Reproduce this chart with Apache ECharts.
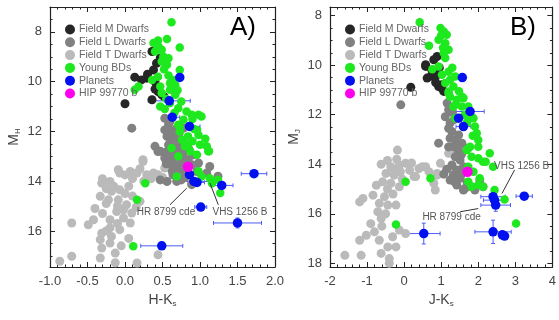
<!DOCTYPE html>
<html>
<head>
<meta charset="utf-8">
<script src="https://cdn.jsdelivr.net/npm/echarts@6/dist/echarts.min.js"></script>
<style>
html, body { margin: 0; padding: 0; background: #fff; }
#mychart { width: 559px; height: 320px; }
</style>
</head>
<body>
<div id="mychart"></div>
<script>
var names = ['Field M Dwarfs', 'Field L Dwarfs', 'Field T Dwarfs', 'Young BDs', 'Planets', 'HIP 99770 b'];

// tick labels
var xTicksA = [-1, -0.5, 0, 0.5, 1, 1.5, 2];
var yTicksA = [8, 10, 12, 14, 16];
var xTicksB = [-2, -1, 0, 1, 2, 3, 4];
var yTicksB = [8, 10, 12, 14, 16, 18];

// A) H-Ks vs M_H   [x, y]
var fieldM_A = [[0.36,8.79],[0.42,9.26],[0.38,9.53],[0.29,9.86],[0.22,9.93],[0.13,9.82],[0.40,10.0],[0.42,10.2],[0.44,10.4],[0.49,10.53],[0.36,10.73],[0.00,10.89],[0.47,9.05],[0.30,9.7],[0.52,10.6],[0.40,10.3]];
var fieldL_A = [[0.09,11.87],[0.40,12.6],[0.47,12.8],[0.53,11.47],[0.58,11.73],[0.53,11.94],[0.64,12.07],[0.56,12.2],[0.62,12.34],[0.71,12.27],[0.58,12.54],[0.69,12.6],[0.78,12.47],[0.56,12.81],[0.67,12.87],[0.78,12.87],[0.64,13.14],[0.76,13.14],[0.84,13.14],[0.67,13.41],[0.89,13.34],[0.98,13.27],[0.44,12.81],[0.53,13.07],[0.73,13.54],[0.69,14.01],[0.56,14.01],[0.47,13.95],[0.89,14.1],[0.78,11.87],[0.82,13.67],[0.96,13.61],[1.09,13.67],[0.64,13.74],[1.13,13.41],[1.24,13.8],[0.89,14.14],[0.62,12.0],[0.72,12.1],[0.60,13.3],[0.85,12.7],[0.90,12.95],[0.74,13.3],[0.80,13.85],[0.63,13.6],[0.55,13.3],[0.6,11.6],[0.68,11.9],[0.7,12.75],[0.58,13.0],[0.75,13.95]];
var fieldT_A = [[0.24,13.21],[-0.09,13.54],[-0.31,14.08],[-0.2,14.01],[-0.07,13.67],[0.07,13.61],[0.16,13.67],[0.29,13.74],[0.38,13.67],[0.44,13.74],[-0.18,14.41],[-0.07,14.35],[-0.33,14.61],[-0.22,14.75],[-0.09,14.75],[0.02,14.95],[-0.02,15.15],[0.09,15.28],[0.2,14.81],[-0.11,15.22],[-0.2,15.55],[-0.02,15.48],[0.07,15.68],[-0.42,15.55],[-0.49,15.75],[-0.71,15.68],[-0.2,15.88],[-0.07,15.95],[-0.31,16.09],[-0.18,16.22],[-0.33,16.35],[-0.2,16.49],[-0.31,16.69],[-0.13,16.89],[-0.33,17.09],[-0.71,17.02],[-0.87,17.22],[0.16,17.29],[-0.13,17.28],[0.44,16.96],[0.62,12.94],[0.24,13.14],[0.56,14.01],[0.5,13.85],[0.53,13.47],[0.1,13.9],[-0.15,14.2],[0.0,14.5],[-0.25,14.3],[0.1,14.6],[-0.1,15.0],[0.15,15.05],[-0.3,15.3],[-0.4,15.1],[0.35,13.9],[0.25,14.0],[-0.05,16.6],[0.05,16.3],[-0.3,13.9],[0.0,13.75],[0.2,13.5],[-0.25,14.9],[-0.1,15.7],[-0.25,16.0],[0.05,14.2]];
var young_A = [[0.82,6.98],[0.62,7.61],[0.38,8.45],[0.44,8.35],[0.56,8.29],[0.40,8.79],[0.49,8.72],[0.73,8.63],[0.51,8.99],[0.58,9.06],[0.49,9.19],[0.56,9.32],[0.73,9.53],[0.64,9.93],[0.60,10.06],[0.67,10.13],[0.18,10.2],[0.13,10.33],[0.36,9.93],[0.44,9.8],[0.47,10.2],[0.49,10.46],[0.60,10.33],[0.67,10.53],[0.60,10.86],[0.47,11.0],[0.53,11.1],[0.71,11.07],[0.82,11.2],[0.89,11.33],[0.98,11.33],[1.02,11.4],[0.78,11.53],[0.71,11.73],[0.73,11.8],[0.84,12.2],[0.98,12.14],[1.0,12.54],[0.84,12.54],[0.87,12.8],[1.11,12.8],[0.96,12.94],[0.62,12.67],[0.71,13.0],[0.98,13.6],[1.02,13.81],[0.69,13.81],[1.13,13.88],[1.24,13.94],[1.16,14.08],[1.27,14.48],[0.27,14.08],[0.16,14.75],[0.11,16.62],[1.07,12.3],[0.96,11.94],[1.09,12.6],[1.12,12.8],[0.76,12.34],[0.8,12.6],[0.73,12.0],[0.66,11.25],[0.9,11.5],[0.55,10.7],[0.45,8.6],[0.52,9.5],[0.58,9.75],[0.7,10.35],[0.75,10.8],[0.9,12.4],[0.92,11.9]];
// planets: [x, y, xerr, yerr]
var planets_A = [[0.73,9.83,0,0],[0.59,10.77,0.28,0.05],[0.63,11.43,0.1,0.05],[0.86,11.8,0.14,0.05],[0.86,13.74,0.25,0.05],[0.92,14.01,0.27,0.05],[0.96,14.05,0.1,0.05],[1.29,14.17,0.15,0.05],[1.72,13.7,0.17,0.05],[1.01,15.04,0.08,0.05],[1.5,15.68,0.32,0.2],[0.49,16.6,0.28,0.1]];
var hip_A = [[0.84,13.42,0.13,0.05]];

// B) J-Ks vs M_J
var fieldM_B = [[0.89,9.65],[0.8,9.78],[0.58,9.98],[0.58,10.05],[0.62,10.52],[0.72,10.45],[0.89,10.39],[0.93,10.86],[1.02,10.93],[1.02,10.79],[0.18,10.89],[0.75,10.2],[0.95,10.1],[1.07,11.06],[0.85,10.7]];
var fieldL_B = [[-0.09,11.6],[0.93,13.15],[1.16,11.53],[1.2,11.8],[1.11,12.08],[1.24,12.34],[1.29,12.68],[1.24,12.95],[1.38,13.02],[1.47,12.82],[1.33,13.29],[1.56,13.15],[1.47,13.49],[1.38,13.7],[1.51,13.83],[1.29,14.03],[1.42,14.23],[1.6,14.1],[1.33,14.44],[1.24,14.64],[1.51,14.57],[1.42,14.84],[1.64,14.98],[1.82,14.91],[1.91,15.04],[1.69,13.36],[2.04,14.64],[2.13,14.91],[1.07,14.4],[1.2,12.55],[1.35,12.2],[1.55,14.4],[1.7,14.75],[1.6,15.04],[1.55,13.6],[1.15,14.2],[1.3,11.9],[1.45,13.3],[1.2,13.3],[1.35,14.7]];
var fieldT_B = [[-0.18,13.43],[-0.62,14.0],[-0.36,14.1],[-0.13,14.03],[0.04,13.96],[-0.49,14.37],[-0.27,14.44],[-0.58,14.71],[-0.36,14.77],[-0.13,14.91],[-0.84,15.25],[-1.11,15.38],[-1.2,15.52],[-0.53,15.31],[-0.67,15.58],[-0.44,15.65],[-0.71,15.92],[-0.62,16.19],[-0.22,15.65],[0.31,14.5],[0.58,14.1],[0.84,15.04],[0.4,14.17],[-1.02,16.87],[-1.2,17.07],[-0.8,16.73],[-0.67,17.07],[-0.31,16.93],[-0.13,16.66],[-0.44,17.34],[-0.22,17.34],[-0.62,17.6],[-0.4,17.81],[-1.6,17.68],[-1.16,17.68],[0.04,16.8],[-0.4,18.0],[0.49,14.1],[0.67,14.3],[0.89,14.37],[0.27,14.5],[1.29,13.56],[1.33,14.3],[1.2,13.56],[0.98,13.96],[0.89,14.44],[0.8,14.77],[-0.3,14.2],[-0.1,14.3],[0.15,14.25],[-0.45,15.0],[-0.3,15.2],[-0.75,14.85],[0.2,13.95],[-0.2,13.8],[-0.45,13.85],[-0.05,14.6],[-0.6,16.5],[-0.9,16.4],[-0.5,16.0]];
var young_B = [[0.93,7.62],[0.42,8.27],[0.98,8.5],[1.07,8.64],[1.15,8.77],[0.93,8.97],[1.11,9.11],[0.67,9.21],[1.2,9.38],[1.07,9.51],[1.11,9.71],[0.76,10.16],[0.93,10.05],[1.2,10.26],[1.02,10.39],[1.38,10.46],[1.24,10.59],[1.11,10.72],[1.33,10.86],[1.2,11.06],[1.24,11.27],[1.42,11.4],[1.6,11.33],[1.56,11.67],[1.73,11.67],[1.33,11.67],[1.64,12.0],[1.87,12.14],[1.38,12.14],[1.91,12.48],[1.96,12.75],[2.0,13.02],[1.73,13.36],[2.0,13.29],[2.31,13.56],[1.82,13.7],[1.78,13.29],[1.69,13.43],[2.0,13.76],[2.13,13.9],[2.4,14.1],[1.73,14.1],[1.73,14.71],[2.04,14.57],[2.0,14.84],[2.13,14.91],[1.82,14.91],[2.44,15.04],[2.71,15.42],[3.02,16.39],[0.71,14.57],[0.04,14.71],[-0.22,16.43],[1.2,11.13],[1.56,11.27],[1.38,11.6],[1.82,12.08],[1.6,12.48],[2.2,13.9],[1.87,14.3],[1.05,9.3],[1.0,8.8],[1.3,10.1],[1.48,11.05],[1.7,12.3],[1.85,12.85]];
var planets_B = [[1.57,10.5,0,0],[1.78,11.87,0.38,0.1],[1.47,12.14,0.1,0.05],[1.6,12.48,0.2,0.1],[2.4,15.31,0.33,0.1],[2.44,15.45,0.3,0.1],[2.47,15.65,0.4,0.25],[3.24,15.29,0.22,0.1],[2.4,16.73,0.49,0.47],[2.71,16.9,0,0],[2.65,16.85,0,0],[0.53,16.8,0.44,0.42]];
var hip_B = [[1.71,14.3,0.2,0.05]];

var colors = ['#262626', '#818181', '#bababa', '#1ee81e', '#0010ee', '#ff00ee'];
var font = 'Liberation Sans, Arial, sans-serif';

function inList(v, list) {
	for(var i = 0; i < list.length; i++) {
		if(Math.abs(v - list[i]) < 1e-6) return true;
	}
	return false;
}

function axis(o) {
	var ax = {
		type: 'value',
		gridIndex: o.grid,
		position: o.pos,
		min: o.min,
		max: o.max,
		inverse: !!o.inverse,
		axisLine: { show: true, onZero: false, lineStyle: { color: '#222', width: 1.2 } },
		axisTick: { show: true, inside: true, length: 5, lineStyle: { color: '#222' } },
		minorTick: { show: true, splitNumber: o.minor, length: 2.5, lineStyle: { color: '#222' } },
		splitLine: { show: false },
		axisLabel: { show: !!o.fmt, formatter: o.fmt, color: '#444', fontSize: 13, fontFamily: font, margin: 8 }
	};
	if(o.interval) ax.interval = o.interval;
	else ax.splitNumber = 5;
	if(o.name) {
		ax.name = o.name;
		ax.nameLocation = 'middle';
		ax.nameGap = o.gap;
		ax.nameTextStyle = {
			color: '#444', fontSize: 14, fontFamily: font,
			rich: {
				m: { fontSize: 14, color: '#444', fontFamily: font },
				s: { fontSize: 8, color: '#444', fontFamily: font, padding: [7, 0, 0, 0] }
			}
		};
	}
	return ax;
}

// error bars through the axes' own scales
function errRender(color) {
	return function(params, api) {
		var x = api.value(0), y = api.value(1), ex = api.value(2), ey = api.value(3);
		var st = { stroke: color, lineWidth: 1 };
		var kids = [];
		if(ex > 0) {
			var a = api.coord([x - ex, y]), b = api.coord([x + ex, y]);
			kids.push({ type: 'line', shape: { x1: a[0], y1: a[1], x2: b[0], y2: b[1] }, style: st });
			kids.push({ type: 'line', shape: { x1: a[0], y1: a[1] - 2, x2: a[0], y2: a[1] + 2 }, style: st });
			kids.push({ type: 'line', shape: { x1: b[0], y1: b[1] - 2, x2: b[0], y2: b[1] + 2 }, style: st });
		}
		if(ey > 0) {
			var c = api.coord([x, y - ey]), d = api.coord([x, y + ey]);
			kids.push({ type: 'line', shape: { x1: c[0], y1: c[1], x2: d[0], y2: d[1] }, style: st });
			kids.push({ type: 'line', shape: { x1: c[0] - 2, y1: c[1], x2: c[0] + 2, y2: c[1] }, style: st });
			kids.push({ type: 'line', shape: { x1: d[0] - 2, y1: d[1], x2: d[0] + 2, y2: d[1] }, style: st });
		}
		return { type: 'group', children: kids };
	};
}

// draw order inside a panel: T, L, M, young, planets, HIP
function panelSeries(ai, t, l, m, y, p, h) {
	var dot = function(k, data, size) {
		return {
			name: names[k], type: 'scatter', xAxisIndex: ai, yAxisIndex: ai,
			symbolSize: size, data: data,
			itemStyle: { color: colors[k], opacity: 1 }, silent: true
		};
	};
	return [
		dot(2, t, 9), dot(1, l, 9), dot(0, m, 9), dot(3, y, 8.5),
		{ type: 'custom', name: 'err1', xAxisIndex: ai, yAxisIndex: ai, data: p, renderItem: errRender('#4c5cf5'), silent: true },
		dot(4, p, 9.5),
		{ type: 'custom', name: 'err2', xAxisIndex: ai, yAxisIndex: ai, data: h, renderItem: errRender('#ff4cf0'), silent: true },
		dot(5, h, 10.5)
	];
}

function legendAt(left) {
	return {
		data: names, orient: 'vertical', left: left, top: 24, padding: 0,
		icon: 'circle', itemWidth: 10, itemHeight: 10, itemGap: 1.8,
		selectedMode: false,
		textStyle: { color: '#666', fontSize: 10.5, fontFamily: font, lineHeight: 10, padding: [0, 0, 0, -1] }
	};
}

var myChart = echarts.init(document.getElementById('mychart'));

var option = {
	animation: false,
	backgroundColor: '#fff',
	grid: [
		{ left: 50, top: 7, width: 225, height: 260 },
		{ left: 330, top: 7, width: 225, height: 260 }
	],
	legend: [legendAt(65), legendAt(345)],
	xAxis: [
		axis({ grid: 0, pos: 'bottom', min: -1, max: 2, interval: 0.5, minor: 5, name: '{m|H-K}{s|s}', gap: 24,
			fmt: function(v) { return inList(v, xTicksA) ? v.toFixed(1) : ''; } }),
		axis({ grid: 0, pos: 'top', min: -1, max: 2, interval: 0.5, minor: 5 }),
		axis({ grid: 1, pos: 'bottom', min: -2, max: 4, interval: 1, minor: 5, name: '{m|J-K}{s|s}', gap: 24,
			fmt: function(v) { return inList(v, xTicksB) ? String(v) : ''; } }),
		axis({ grid: 1, pos: 'top', min: -2, max: 4, interval: 1, minor: 5 })
	],
	yAxis: [
		axis({ grid: 0, pos: 'left', min: 7, max: 17.45, inverse: true, minor: 4, name: '{m|M}{s|H}', gap: 28,
			fmt: function(v) { return inList(v, yTicksA) ? String(v) : ''; } }),
		axis({ grid: 0, pos: 'right', min: 7, max: 17.45, inverse: true, minor: 4 }),
		axis({ grid: 1, pos: 'left', min: 7.65, max: 18.15, inverse: true, minor: 4, name: '{m|M}{s|J}', gap: 28,
			fmt: function(v) { return inList(v, yTicksB) ? String(v) : ''; } }),
		axis({ grid: 1, pos: 'right', min: 7.65, max: 18.15, inverse: true, minor: 4 })
	],
	series: panelSeries(0, fieldT_A, fieldL_A, fieldM_A, young_A, planets_A, hip_A)
		.concat(panelSeries(2, fieldT_B, fieldL_B, fieldM_B, young_B, planets_B, hip_B))
};

myChart.setOption(option);

// annotations placed from data coordinates
var notes = [
	{ ax: 0, text: 'HR 8799 cde', at: [0.547, 15.23], from: [0.6, 14.95], to: [0.823, 14.28] },
	{ ax: 0, text: 'VHS 1256 B', at: [1.533, 15.23], from: [1.244, 14.95], to: [1.133, 14.08] },
	{ ax: 2, text: 'VHS 1256 B', at: [3.17, 14.07], from: [2.98, 14.23], to: [2.64, 15.18] },
	{ ax: 2, text: 'HR 8799 cde', at: [1.28, 16.13], from: [1.51, 15.92], to: [2.0, 15.79] }
];
var graphics = [];
for(var i = 0; i < notes.length; i++) {
	var n = notes[i];
	var q = { xAxisIndex: n.ax, yAxisIndex: n.ax };
	var t = myChart.convertToPixel(q, n.at);
	var f = myChart.convertToPixel(q, n.from);
	var g = myChart.convertToPixel(q, n.to);
	graphics.push({ type: 'line', shape: { x1: f[0], y1: f[1], x2: g[0], y2: g[1] }, style: { stroke: '#333', lineWidth: 1 }, z: 20 });
	graphics.push({ type: 'text', x: t[0], y: t[1], z: 21,
		style: { text: n.text, fill: '#555', font: '10px ' + font, textAlign: 'center', textVerticalAlign: 'middle' } });
}
graphics.push({ type: 'text', x: 243, y: 28, z: 21, style: { text: 'A)', fill: '#000', font: '26px ' + font, textAlign: 'center', textVerticalAlign: 'middle' } });
graphics.push({ type: 'text', x: 523, y: 28, z: 21, style: { text: 'B)', fill: '#000', font: '26px ' + font, textAlign: 'center', textVerticalAlign: 'middle' } });
myChart.setOption({ graphic: graphics });

window.onresize = function() {
	myChart.resize();
}
</script>
</body>
</html>
